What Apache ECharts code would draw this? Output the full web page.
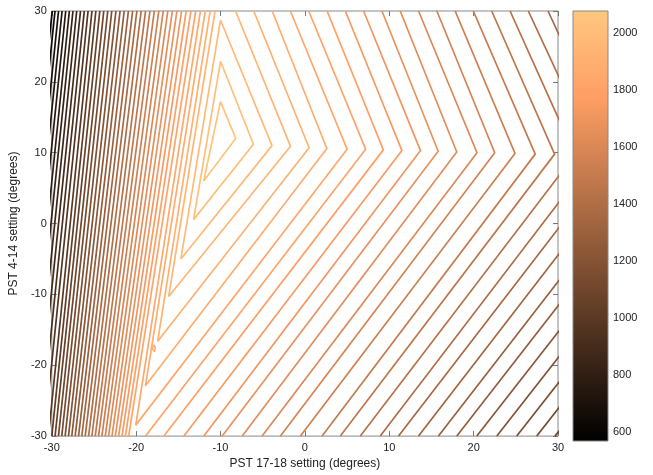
<!DOCTYPE html>
<html><head><meta charset="utf-8">
<script src="https://cdn.jsdelivr.net/npm/echarts@6/dist/echarts.min.js"></script>
<style>html,body{margin:0;padding:0;background:#fff}#c{width:653px;height:475px}</style>
</head><body><div id="c"></div>
<script>
// ---- contour levels (highest first) ----
const levels = [2045, 2011, 1977, 1943, 1909, 1875, 1841, 1807, 1773, 1739, 1705, 1671, 1637, 1603, 1569, 1535, 1501, 1467, 1433, 1399, 1365, 1331, 1297, 1263, 1229, 1195, 1161, 1127, 1093, 1059, 1025, 991, 957, 923, 889, 855, 821, 787, 753, 719, 685, 651, 617];
// colour range of the data / colorbar
const cbMin = 570, cbMax = 2076;
const cbTicks = [600, 800, 1000, 1200, 1400, 1600, 1800, 2000];
const axisTicks = [-30, -20, -10, 0, 10, 20, 30];

// top corners of the closed inner contours (levels 1-3)
const topCornerX = [-10.0, -10.0, -10.0];
const topCornerY = [17.2, 22.9, 28.7];
// lower-left corners (levels 1-7)
const lowCornerX = [-12.0, -13.2, -14.7, -16.15, -17.45, -18.9, -20.05];
const lowCornerY = [6.0, 0.55, -5.0, -10.3, -16.6, -22.9, -28.45];
// right-pointing chevron tips (levels 1-29)
const tipX = [-8.2, -6.1, -3.9, -1.7, 0.5, 2.6, 5.0, 7.2, 9.3, 11.5, 13.7, 15.8, 18.0, 20.4, 22.5, 24.9, 27.3, 29.6, 32.0, 34.4, 36.7, 39.1, 41.5, 43.8, 46.2, 48.6, 50.9, 53.3, 55.7];
const tipY = [12.0, 11.2, 11.0, 10.9, 10.7, 10.6, 10.5, 10.5, 10.4, 10.3, 10.3, 10.2, 10.1, 10.0, 10.0, 9.9, 9.8, 9.8, 9.7, 9.7, 9.6, 9.6, 9.5, 9.5, 9.4, 9.4, 9.3, 9.3, 9.2];
// where the upper arm of the chevron meets y = 30 (levels 4-21)
const upperArmTopX = [null, null, null, -8.22, -6.06, -3.88, -1.72, 0.45, 2.63, 4.79, 6.96, 9.13, 11.30, 13.47, 15.64, 17.81, 19.96, 22.14, 24.32, 26.48, 28.82];
// where the lower arm meets y = -30 (levels 8-29)
const lowerArmBotX = [null, null, null, null, null, null, null, -18.88, -16.71, -14.34, -11.98, -9.8, -7.43, -5.07, -2.9, -0.53, 2.04, 4.2, 6.57, 8.93, 11.1, 13.47, 15.83, 18.01, 20.38, 22.75, 25.11, 27.48, 29.64];
// steep left-hand lines: x at y = 30 (levels 4-43)
const steepTopX = [null, null, null, -10.65, -11.23, -11.81, -12.38, -12.94, -13.51, -14.07, -14.62, -15.17, -15.71, -16.25, -16.79, -17.32, -17.85, -18.37, -18.89, -19.41, -19.92, -20.42, -20.92, -21.42, -21.91, -22.40, -22.89, -23.37, -23.84, -24.31, -24.78, -25.24, -25.70, -26.15, -26.60, -27.05, -27.49, -27.92, -28.35, -28.78, -29.20, -29.62, -29.95];
// steep left-hand lines: x at y = -30 (levels 8-43)
const steepBotX = [null, null, null, null, null, null, null, -20.89, -21.28, -21.68, -22.08, -22.47, -22.87, -23.27, -23.66, -24.06, -24.46, -24.85, -25.25, -25.64, -26.04, -26.44, -26.83, -27.23, -27.63, -28.02, -28.42, -28.82, -29.21, -29.61, -30.0, -30.4, -30.9, -31.35, -31.8, -32.25, -32.7, -33.1, -33.55, -34.0, -34.4, -34.8, -35.2];
// small isolated loop near (-18,-17.7)
const loopLevel = 1909;
const loopX = [-17.95, -17.75, -17.8, -18.0, -18.1, -17.95];
const loopY = [-17.1, -17.4, -18.1, -18.3, -17.7, -17.1];

function copper(v) {
  let t = (v - cbMin) / (cbMax - cbMin);
  t = Math.max(0, Math.min(1, t));
  const r = Math.round(255 * Math.min(1, 1.25 * t));
  const g = Math.round(255 * 0.7812 * t);
  const b = Math.round(255 * 0.4975 * t);
  return 'rgb(' + r + ',' + g + ',' + b + ')';
}

const segs = [];
for (let i = 0; i < levels.length; i++) {
  const col = copper(levels[i]);
  if (i < topCornerX.length) {
    segs.push({col, pts: [[topCornerX[i], topCornerY[i]], [lowCornerX[i], lowCornerY[i]], [tipX[i], tipY[i]], [topCornerX[i], topCornerY[i]]]});
  } else if (i < lowCornerX.length) {
    segs.push({col, pts: [[steepTopX[i], 30], [lowCornerX[i], lowCornerY[i]], [tipX[i], tipY[i]], [upperArmTopX[i], 30]]});
  } else {
    segs.push({col, pts: [[steepTopX[i], 30], [steepBotX[i], -30]]});
    if (i < tipX.length) {
      const p = [[lowerArmBotX[i], -30], [tipX[i], tipY[i]]];
      if (upperArmTopX[i] != null) p.push([upperArmTopX[i], 30]);
      segs.push({col, pts: p});
    }
  }
}
segs.push({col: copper(loopLevel), pts: loopX.map((x, k) => [x, loopY[k]])});

const series = segs.map(s => ({
  type: 'line', xAxisIndex: 0, yAxisIndex: 0, data: s.pts,
  showSymbol: false, symbol: 'none', clip: true, silent: true, smooth: false,
  lineStyle: {color: s.col, width: 1.7}, animation: false
}));

series.push({
  type: 'custom', xAxisIndex: 2, yAxisIndex: 2, silent: true, animation: false,
  data: [[0, cbMin, 1, cbMax]],
  renderItem: function (params, api) {
    const p0 = api.coord([api.value(0), api.value(1)]);
    const p1 = api.coord([api.value(2), api.value(3)]);
    return {
      type: 'rect',
      shape: {x: p0[0], y: p1[1], width: p1[0] - p0[0], height: p0[1] - p1[1]},
      style: {fill: new echarts.graphic.LinearGradient(0, 1, 0, 0, [
        {offset: 0, color: copper(cbMin)},
        {offset: 0.8, color: copper(cbMin + 0.8 * (cbMax - cbMin))},
        {offset: 1, color: copper(cbMax)}
      ])}
    };
  }
});

const font = 'Liberation Sans';
const lblStyle = {fontFamily: font, fontSize: 11, color: '#222'};
const tickStyle = {show: true, inside: true, length: 5, lineStyle: {color: '#777', width: 1}};
const noLine = {show: false, onZero: false};

const chart = echarts.init(document.getElementById('c'), null, {renderer: 'canvas'});
chart.setOption({
  animation: false,
  backgroundColor: '#fff',
  grid: [
    {left: 51, top: 11, width: 507, height: 430, show: true, borderColor: '#888', borderWidth: 1, backgroundColor: 'transparent'},
    {left: 573, top: 11, width: 35, height: 430, show: true, borderColor: '#888', borderWidth: 1, backgroundColor: 'transparent', z: 10}
  ],
  xAxis: [
    {type: 'value', gridIndex: 0, min: -30, max: 30, interval: 10, position: 'bottom',
     axisLine: noLine, axisTick: tickStyle, splitLine: {show: false},
     axisLabel: Object.assign({margin: 6}, lblStyle),
     name: 'PST 17-18 setting (degrees)', nameLocation: 'middle', nameGap: 19,
     nameTextStyle: {fontFamily: font, fontSize: 12, color: '#222'}},
    {type: 'value', gridIndex: 0, min: -30, max: 30, interval: 10, position: 'top',
     axisLine: noLine, axisTick: tickStyle, splitLine: {show: false}, axisLabel: {show: false}},
    {type: 'value', gridIndex: 1, min: 0, max: 1, show: false}
  ],
  yAxis: [
    {type: 'value', gridIndex: 0, min: -30, max: 30, interval: 10, position: 'left',
     axisLine: noLine, axisTick: tickStyle, splitLine: {show: false},
     axisLabel: Object.assign({margin: 5}, lblStyle),
     name: 'PST 4-14 setting (degrees)', nameLocation: 'middle', nameGap: 30, nameRotate: 90,
     nameTextStyle: {fontFamily: font, fontSize: 12, color: '#222'}},
    {type: 'value', gridIndex: 0, min: -30, max: 30, interval: 10, position: 'right',
     axisLine: noLine, axisTick: tickStyle, splitLine: {show: false}, axisLabel: {show: false}},
    {type: 'value', gridIndex: 1, min: cbMin, max: cbMax, position: 'right',
     axisLine: noLine, splitLine: {show: false},
     axisTick: Object.assign({customValues: cbTicks}, tickStyle, {length: 4}),
     axisLabel: Object.assign({customValues: cbTicks, margin: 5, formatter: v => String(v)}, lblStyle)},
    {type: 'value', gridIndex: 1, min: cbMin, max: cbMax, position: 'left',
     axisLine: noLine, splitLine: {show: false},
     axisTick: Object.assign({customValues: cbTicks}, tickStyle, {length: 4}),
     axisLabel: {show: false}}
  ],
  series: series
});
</script>
</body></html>
